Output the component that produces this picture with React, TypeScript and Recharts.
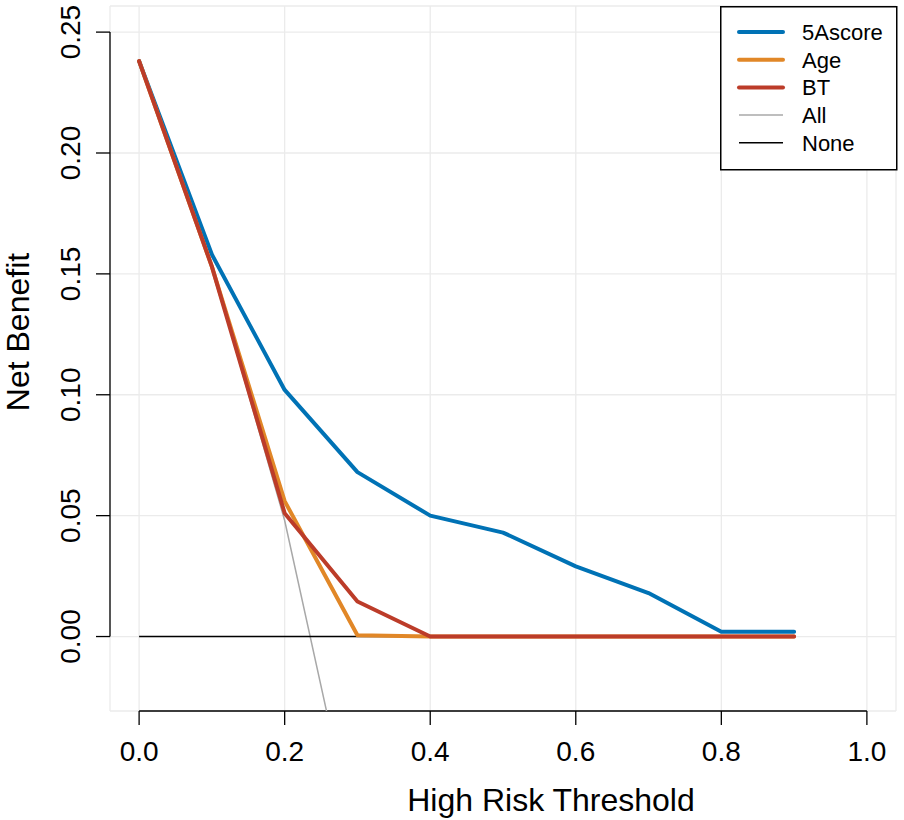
import React from "react";
import { LineChart, Line, XAxis, YAxis, CartesianGrid, ReferenceLine, Legend } from "recharts";

const thresholds = [0, 0.1, 0.2, 0.3, 0.4, 0.5, 0.6, 0.7, 0.8, 0.9];
const score5A = [0.238, 0.158, 0.102, 0.068, 0.050, 0.043, 0.029, 0.018, 0.002, 0.002];
const ageNB = [0.238, 0.153, 0.056, 0.0005, 0, 0, 0, 0, 0, 0];
const btNB = [0.238, 0.153, 0.051, 0.0145, 0, 0, 0, 0, 0, 0];
const allNB = [0.238, 0.153, 0.048, -0.089, -0.27, -0.524, -0.905, -1.54, -2.81, -6.62];
const noneNB = [0, 0, 0, 0, 0, 0, 0, 0, 0, 0];

const xTicks = [0, 0.2, 0.4, 0.6, 0.8, 1.0];
const yTicks = [0, 0.05, 0.1, 0.15, 0.2, 0.25];

const seriesNames = ["5Ascore", "Age", "BT", "All", "None"];
const seriesColors = ["#0072B5", "#E18727", "#BC3C29", "#A8A8A8", "#000000"];
const seriesWidths = [4, 4, 4, 1.5, 1.5];

const data = thresholds.map((t, i) => ({
  t,
  s5A: score5A[i],
  age: ageNB[i],
  bt: btNB[i],
  all: allNB[i],
  none: noneNB[i],
}));

const FONT = "'Liberation Sans', Arial, Helvetica, sans-serif";

const XTick = (props: any) => {
  const { x, y, payload } = props;
  return (
    <g>
      <line x1={x} x2={x} y1={y} y2={y + 14} stroke="#000" strokeWidth={1.3} />
      <text x={x} y={y + 50} textAnchor="middle" fontSize={28} fontFamily={FONT} fill="#000">
        {Number(payload.value).toFixed(1)}
      </text>
    </g>
  );
};

const YTick = (props: any) => {
  const { x, y, payload } = props;
  return (
    <g>
      <line x1={x - 14} x2={x} y1={y} y2={y} stroke="#000" strokeWidth={1.3} />
      <text
        transform={`translate(${x - 30}, ${y}) rotate(-90)`}
        textAnchor="middle"
        fontSize={28}
        fontFamily={FONT}
        fill="#000"
      >
        {Number(payload.value).toFixed(2)}
      </text>
    </g>
  );
};

const LegendBox = () => (
  <svg width={178} height={165} style={{ display: "block" }}>
    <rect x={0.75} y={0.75} width={176} height={163} fill="#fff" stroke="#000" strokeWidth={1.5} />
    {seriesNames.map((name, i) => {
      const cy = 26 + i * 27.7;
      return (
        <g key={name}>
          <line
            x1={19}
            x2={63}
            y1={cy}
            y2={cy}
            stroke={seriesColors[i]}
            strokeWidth={seriesWidths[i]}
            strokeLinecap={seriesWidths[i] > 2 ? "round" : "butt"}
          />
          <text x={82} y={cy + 8} fontSize={22} fontFamily={FONT} fill="#000">
            {name}
          </text>
        </g>
      );
    })}
  </svg>
);

export default function App() {
  return (
    <div style={{ position: "absolute", left: 0, top: 0, width: 904, height: 820, background: "#fff" }}>
      <LineChart width={904} height={820} data={data} margin={{ top: 6, right: 8, bottom: 0, left: 0 }}>
        <CartesianGrid stroke="#EBEBEB" strokeWidth={1.3} />
        <XAxis
          dataKey="t"
          type="number"
          domain={[-0.04, 1.04]}
          ticks={xTicks}
          allowDataOverflow
          axisLine={false}
          tickLine={false}
          tickSize={0}
          tickMargin={0}
          height={109}
          tick={<XTick />}
          interval={0}
        />
        <YAxis
          type="number"
          domain={[-0.0308, 0.2608]}
          ticks={yTicks}
          allowDataOverflow
          axisLine={false}
          tickLine={false}
          tickSize={0}
          tickMargin={0}
          width={110}
          tick={<YTick />}
          interval={0}
        />
        <ReferenceLine
          segment={[{ x: -0.04, y: 0 }, { x: -0.04, y: 0.25 }]}
          stroke="#000"
          strokeWidth={1.3}
          ifOverflow="visible"
        />
        <ReferenceLine
          segment={[{ x: 0, y: -0.0308 }, { x: 1, y: -0.0308 }]}
          stroke="#000"
          strokeWidth={1.3}
          ifOverflow="visible"
        />
        <Line dataKey="all" stroke={seriesColors[3]} strokeWidth={seriesWidths[3]} dot={false} isAnimationActive={false} type="linear" />
        <Line dataKey="none" stroke={seriesColors[4]} strokeWidth={seriesWidths[4]} dot={false} isAnimationActive={false} type="linear" />
        <Line dataKey="s5A" stroke={seriesColors[0]} strokeWidth={seriesWidths[0]} dot={false} isAnimationActive={false} type="linear" strokeLinecap="round" strokeLinejoin="round" />
        <Line dataKey="age" stroke={seriesColors[1]} strokeWidth={seriesWidths[1]} dot={false} isAnimationActive={false} type="linear" strokeLinecap="round" strokeLinejoin="round" />
        <Line dataKey="bt" stroke={seriesColors[2]} strokeWidth={seriesWidths[2]} dot={false} isAnimationActive={false} type="linear" strokeLinecap="round" strokeLinejoin="round" />
        <Legend
          layout="horizontal"
          verticalAlign="middle"
          align="center"
          content={<LegendBox />}
          wrapperStyle={{ position: "absolute", left: 720, top: 6, width: 178, height: 165 }}
        />
        <text x={551} y={811} textAnchor="middle" fontSize={32} fontFamily={FONT} fill="#000">
          High Risk Threshold
        </text>
        <text transform="translate(29, 332) rotate(-90)" textAnchor="middle" fontSize={32} fontFamily={FONT} fill="#000">
          Net Benefit
        </text>
      </LineChart>
    </div>
  );
}
